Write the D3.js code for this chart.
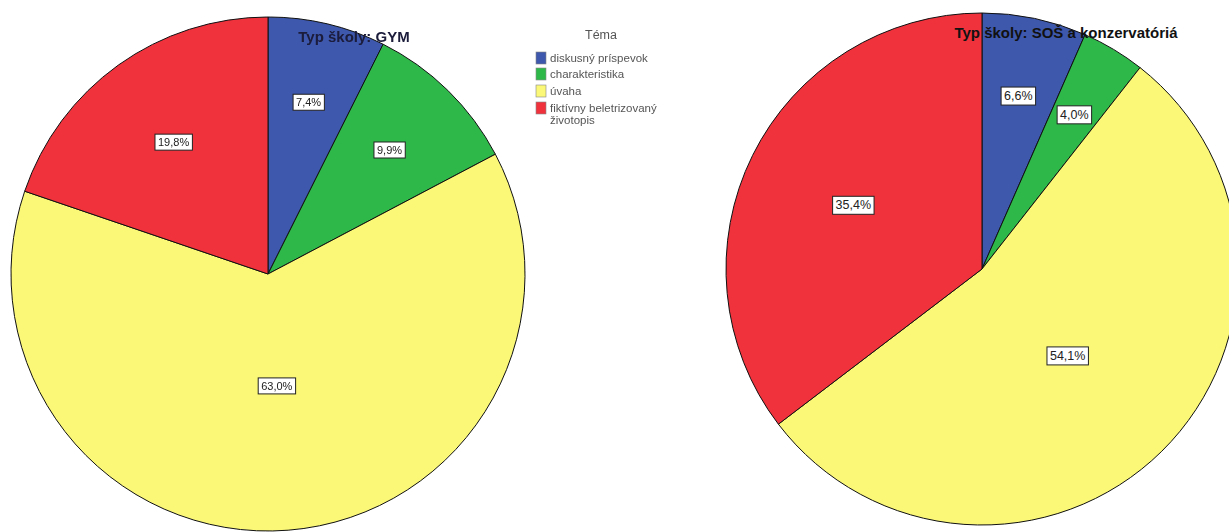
<!DOCTYPE html>
<html><head><meta charset="utf-8">
<script src="https://cdn.jsdelivr.net/npm/d3@7/dist/d3.min.js"></script>
<style>body{margin:0;background:#fff}svg{display:block}</style>
</head><body>
<svg id="c" width="1229" height="532"></svg>
<script>
const categories = ["diskusný príspevok", "charakteristika", "úvaha", "fiktívny beletrizovaný životopis"];
const colors = ["#3e58ac", "#2fb84a", "#fbf877", "#f0323c"];
const gymValues = [7.4, 9.9, 63.0, 19.8];
const sosValues = [6.6, 4.0, 54.1, 35.4];
const gymLabels = ["7,4%", "9,9%", "63,0%", "19,8%"];
const sosLabels = ["6,6%", "4,0%", "54,1%", "35,4%"];
const legendTitle = "Téma";
const titles = ["Typ školy: GYM", "Typ školy: SOŠ a konzervatóriá"];

const svg = d3.select("#c");
const defs = svg.append("defs");
defs.append("filter").attr("id","soft").append("feGaussianBlur").attr("stdDeviation",0.5);

const pie = d3.pie().sort(null).value(d => d);

function drawPie(g, values, labels, cx, cy, r, opts) {
  const arcs = pie(values);
  const arc = d3.arc().innerRadius(0).outerRadius(r);
  const gg = g.append("g").attr("transform", `translate(${cx},${cy})`);
  gg.selectAll("path").data(arcs).enter().append("path")
    .attr("d", arc).attr("fill", (d,i) => colors[i])
    .attr("stroke", "#111").attr("stroke-width", 1);
  arcs.forEach((d,i) => {
    const p = (d.endAngle - d.startAngle) / (2*Math.PI);
    const frac = 0.72 - 0.45*p;
    const a = (d.startAngle + d.endAngle)/2;
    const x = Math.sin(a) * r * frac, y = -Math.cos(a) * r * frac;
    const t = gg.append("text").attr("x", x).attr("y", y)
      .attr("text-anchor","middle").attr("dominant-baseline","central")
      .attr("font-family","Liberation Sans, Arial, sans-serif")
      .attr("font-size", opts.fs).attr("fill","#222").text(labels[i]);
    const bb = t.node().getBBox();
    gg.insert("rect", "text").attr("x", bb.x - 3).attr("y", bb.y - 2)
      .attr("width", bb.width + 6).attr("height", bb.height + 4)
      .attr("fill","#fff").attr("stroke","#222").attr("stroke-width",1);
  });
}

const left = svg.append("g").attr("filter","url(#soft)");
drawPie(left, gymValues, gymLabels, 268, 274, 257, {fs: 11});
left.append("text").attr("x", 354).attr("y", 42).attr("text-anchor","middle")
  .attr("font-family","Liberation Sans, Arial, sans-serif").attr("font-weight","bold")
  .attr("font-size", 15).attr("fill","#1a1a3a").text(titles[0]);

// legend
const lg = left.append("g");
lg.append("text").attr("x", 601).attr("y", 39).attr("text-anchor","middle")
  .attr("font-family","Liberation Sans, Arial, sans-serif").attr("font-size", 12.5)
  .attr("fill","#555").text(legendTitle);
const ly = [58, 74, 91, 108];
categories.forEach((c,i) => {
  lg.append("rect").attr("x", 536).attr("y", ly[i]-6).attr("width", 10).attr("height", 12)
    .attr("fill", colors[i]).attr("stroke", "#888").attr("stroke-width", 0.6);
  const words = i === 3 ? ["fiktívny beletrizovaný", "životopis"] : [c];
  words.forEach((w,j) => {
    lg.append("text").attr("x", 550).attr("y", ly[i] + 4 + j*12)
      .attr("font-family","Liberation Sans, Arial, sans-serif").attr("font-size", 11.5)
      .attr("fill","#555").text(w);
  });
});

const right = svg.append("g");
drawPie(right, sosValues, sosLabels, 982, 269, 256, {fs: 12.5});
right.append("text").attr("x", 1066).attr("y", 38).attr("text-anchor","middle")
  .attr("font-family","Liberation Sans, Arial, sans-serif").attr("font-weight","bold")
  .attr("font-size", 15).attr("fill","#111").text(titles[1]);
</script>
</body></html>
